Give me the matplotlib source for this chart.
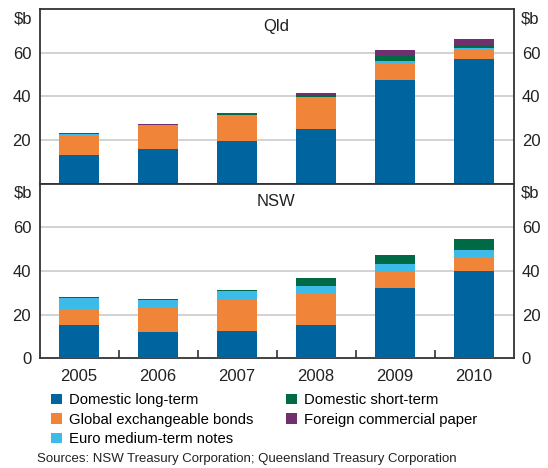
import numpy as np
import matplotlib
matplotlib.use('Agg')
import matplotlib.pyplot as plt
from matplotlib.patches import Patch
from matplotlib import transforms

plt.rcParams['font.family'] = ['Liberation Sans', 'DejaVu Sans']

years = ['2005', '2006', '2007', '2008', '2009', '2010']
series = ['Domestic long-term', 'Global exchangeable bonds', 'Euro medium-term notes',
          'Domestic short-term', 'Foreign commercial paper']
colours = ['#00649e', '#f0853a', '#3cbbe8', '#006a45', '#722f6f']

# $b, stacked bottom to top in the order of `series`
qld_long = [13.0, 15.7, 19.7, 25.2, 47.7, 57.4]
qld_global = [9.3, 11.0, 11.9, 14.6, 7.5, 4.3]
qld_euro = [0.3, 0.0, 0.0, 0.0, 1.3, 0.4]
qld_short = [0.4, 0.1, 0.6, 0.9, 2.3, 1.3]
qld_fcp = [0.4, 0.4, 0.3, 1.0, 2.7, 3.2]

nsw_long = [15.3, 12.1, 12.5, 15.3, 32.2, 40.0]
nsw_global = [7.3, 11.1, 14.7, 14.7, 7.5, 6.3]
nsw_euro = [5.2, 3.7, 3.8, 3.2, 3.6, 3.4]
nsw_short = [0.2, 0.3, 0.5, 3.6, 4.1, 5.0]
nsw_fcp = [0.0, 0.0, 0.0, 0.0, 0.0, 0.0]

yticks = [0, 20, 40, 60]
source = 'Sources: NSW Treasury Corporation; Queensland Treasury Corporation'

W, H = 548, 468
fig = plt.figure(figsize=(W / 100, H / 100), dpi=100)

left, right = 39.5, 513.5
top1, mid, bot = 9.3, 183.7, 358.3
ax1 = fig.add_axes([left / W, 1 - mid / H, (right - left) / W, (mid - top1) / H])
ax2 = fig.add_axes([left / W, 1 - bot / H, (right - left) / W, (bot - mid) / H])


def draw_panel(ax, stacks, name, show_zero):
    x = np.arange(len(years))
    base = np.zeros(len(years))
    for vals, col in zip(stacks, colours):
        ax.bar(x, vals, bottom=base, width=0.506, color=col, zorder=3, linewidth=0)
        base += np.array(vals)
    for g in [20, 40, 60]:
        ax.axhline(g, color='#cfcfcf', lw=1.3, zorder=1)
    ax.set_xlim(-0.5, 5.5)
    ax.set_ylim(0, 80)
    ax.set_yticks(yticks)
    ax.set_yticklabels([str(v) if (v or show_zero) else '' for v in yticks])
    ax.tick_params(axis='y', length=0, labelsize=12, labelright=True,
                   pad=6, colors='#222222')
    for s in ax.spines.values():
        s.set_color('#333333')
        s.set_linewidth(1.3)
    ax.text(0.5, 0.9, name, transform=ax.transAxes, ha='center', va='center',
            fontsize=12, color='#222222')
    tr = transforms.blended_transform_factory(ax.transAxes, ax.transData)
    ax.text(-0.016, 75.6, '$b', transform=tr, ha='right', va='center', fontsize=12,
            color='#222222')
    ax.text(1.016, 75.6, '$b', transform=tr, ha='left', va='center', fontsize=12,
            color='#222222')


draw_panel(ax1, [qld_long, qld_global, qld_euro, qld_short, qld_fcp], 'Qld', False)
draw_panel(ax2, [nsw_long, nsw_global, nsw_euro, nsw_short, nsw_fcp], 'NSW', True)

ax1.set_xticks([])
ax2.set_xticks(np.arange(len(years)))
ax2.set_xticklabels(years)
ax2.set_xticks(np.arange(len(years) - 1) + 0.5, minor=True)
ax2.tick_params(axis='x', which='major', length=0, labelsize=12, pad=8, colors='#222222')
ax2.tick_params(axis='x', which='minor', direction='in', length=6, width=1.2,
                color='#333333')

handles = [Patch(facecolor=c, edgecolor='none') for c in colours]
fig.legend(handles, series, ncol=2, loc='upper left',
           bbox_to_anchor=(51 / W, 1 - 393 / H), frameon=False, fontsize=10.7,
           handlelength=0.72, handleheight=0.72, handletextpad=0.5,
           columnspacing=2.2, labelspacing=0.38, borderpad=0, borderaxespad=0)

fig.text(37 / W, 1 - 459 / H, source, ha='left', va='center', fontsize=9.5,
         color='#222222')

fig.savefig('out.png', dpi=100)
